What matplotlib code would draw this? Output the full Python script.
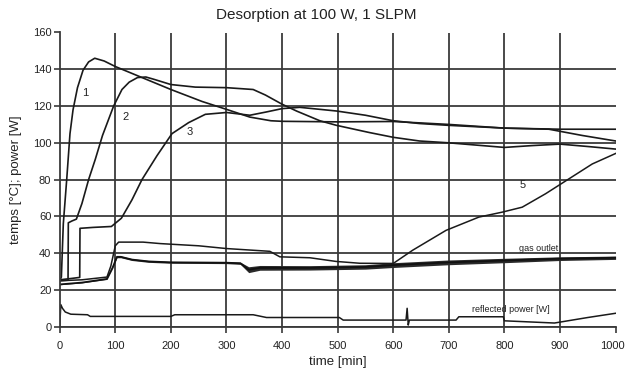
import matplotlib
matplotlib.use("Agg")
import matplotlib.pyplot as plt
import matplotlib.transforms as mtransforms

plt.rcParams['font.family'] = ['Liberation Sans', 'DejaVu Sans']

# ---- data ----
c1_t = [0, 3, 6.5, 12.6, 18.5, 24, 32, 42, 52, 63, 80, 100, 148, 200, 256, 300, 342, 380, 400, 500, 600, 700, 800, 900, 1000]
c1_v = [25, 27, 56, 80, 105, 118, 130, 139.5, 144, 146, 144.5, 141.5, 135.5, 129, 122.5, 118.2, 114, 112, 111.7, 111.4, 111.6, 110, 108, 107.4, 107.4]

c2_t = [0, 15, 15.5, 22, 30, 40, 52, 64, 77, 97, 112, 125, 140, 155, 170, 200, 244, 300, 348, 370, 400, 426, 468, 498, 557, 600, 647, 700, 800, 850, 900, 950, 1000]
c2_v = [25, 25.3, 56.5, 57.5, 58.5, 67, 80, 91, 104, 120, 129, 133, 135.5, 135.8, 134.5, 131.7, 130.3, 130, 129, 126, 121, 117.3, 112, 109.5, 105.6, 103, 101, 100, 97.5, 98.5, 99.3, 98, 96.6]

c3_t = [0, 20, 36, 36.5, 60, 93, 111, 130, 148, 175, 202, 232, 262, 300, 342, 372, 400, 432, 498, 550, 600, 647, 700, 800, 880, 940, 1000]
c3_v = [25.5, 26.2, 26.8, 53.5, 54, 54.5, 59, 69, 80, 93, 105, 111, 115.5, 116.5, 115, 116.8, 118.6, 119.3, 117.3, 115, 112, 110.5, 109.5, 108, 107.4, 104, 101]

c5_t = [0, 40, 85, 92, 100, 106, 150, 181, 250, 300, 378, 396, 450, 497, 540, 600, 635, 695, 754, 796, 832, 874, 916, 958, 1000]
c5_v = [25, 25.5, 27, 33, 44, 46, 46, 45.2, 44, 42.5, 41, 38, 37.5, 35.5, 34.5, 34.4, 41.6, 52.4, 59.6, 62.3, 65, 72.3, 80.4, 88.5, 94.2]

gas_t = [0, 40, 85, 95, 103, 110, 130, 160, 200, 300, 325, 340, 360, 450, 550, 600, 700, 800, 900, 1000]
gas_v = [23, 24, 26, 32, 38, 38, 36.5, 35.5, 35, 34.8, 34.5, 31, 32, 32, 32.5, 33.5, 35, 36, 37, 37.5]
gas_spread = [0.2, 0.2, 0.3, 0.3, 0.5, 0.5, 0.5, 0.5, 0.5, 0.5, 0.6, 1.6, 1.3, 1.2, 1.2, 1.3, 1.3, 1.2, 1.0, 0.9]

refl_t = [0, 2, 5, 10, 20, 50, 55, 200, 207, 348, 372, 503, 510, 623, 625, 627, 629, 713, 718, 798, 800, 890, 950, 1000]
refl_v = [0, 12, 10, 8, 6.8, 6.5, 5.6, 5.6, 6.5, 6.5, 5.0, 5.0, 3.6, 3.6, 10, 0.9, 3.6, 3.6, 5.4, 5.4, 3.2, 2.0, 5.0, 7.3]

x_ticks = [0, 100, 200, 300, 400, 500, 600, 700, 800, 900, 1000]
y_ticks = [0, 20, 40, 60, 80, 100, 120, 140, 160]

labels = [("1", 46, 127), ("2", 118, 114), ("3", 233, 106), ("5", 833, 77)]

# ---- figure ----
fig = plt.figure(figsize=(6.26, 3.73), dpi=100)
ax = fig.add_axes([59.7 / 626, 1 - 326.7 / 373, (615.6 - 59.7) / 626, (326.7 - 32.5) / 373])

lc = '#1a1a1a'
gc = '#3a3a3a'

ax.set_xlim(0, 1000)
ax.set_ylim(0, 160)
ax.set_xticks(x_ticks)
ax.set_yticks(y_ticks)
ax.grid(True, color=gc, linewidth=1.3)
ax.set_axisbelow(True)
for gl, v in zip(ax.get_ygridlines(), y_ticks):
    if v == 160:
        gl.set_visible(False)
for gl, v in zip(ax.get_xgridlines(), x_ticks):
    if v in (0, 1000):
        gl.set_visible(False)

for s in ['top', 'right']:
    ax.spines[s].set_visible(False)
for s in ['left', 'bottom']:
    ax.spines[s].set_color(gc)
    ax.spines[s].set_linewidth(1.3)

ax.tick_params(axis='both', colors=gc, labelcolor='#222222', labelsize=8, width=1.2, length=4)
ax.tick_params(axis='x', pad=6)
ax.tick_params(axis='y', pad=2)

# nudge last x tick label so it stays inside the picture
last = ax.get_xticklabels()[-1]
last.set_transform(last.get_transform() + mtransforms.ScaledTranslation(-3 / 100, 0, fig.dpi_scale_trans))

ax.plot(c1_t, c1_v, color=lc, lw=1.2)
ax.plot(c2_t, c2_v, color=lc, lw=1.2)
ax.plot(c3_t, c3_v, color=lc, lw=1.2)
ax.plot(c5_t, c5_v, color=lc, lw=1.1)
lo = [v - s for v, s in zip(gas_v, gas_spread)]
hi = [v + s for v, s in zip(gas_v, gas_spread)]
ax.fill_between(gas_t, lo, hi, color='#2a2a2a', lw=0)
ax.plot(gas_t, gas_v, color='#111111', lw=1.3)
ax.plot(refl_t, refl_v, color=lc, lw=1.1)

for txt, x, y in labels:
    ax.text(x, y, txt, fontsize=8, ha='center', va='center', color='#222222')
ax.text(862, 42.5, "gas outlet", fontsize=6.5, ha='center', va='center', color='#222222')
ax.text(811, 9.3, "reflected power [W]", fontsize=6.5, ha='center', va='center', color='#222222')

fig.text(316 / 626, 1 - 15 / 373, "Desorption at 100 W, 1 SLPM", fontsize=11, ha='center', va='center', color='#222222')
ax.set_xlabel("time [min]", fontsize=9.5, color='#222222', labelpad=4)
ax.set_ylabel("temps [°C]; power [W]", fontsize=9.5, color='#222222', labelpad=8)

fig.savefig("out.png", dpi=100)
